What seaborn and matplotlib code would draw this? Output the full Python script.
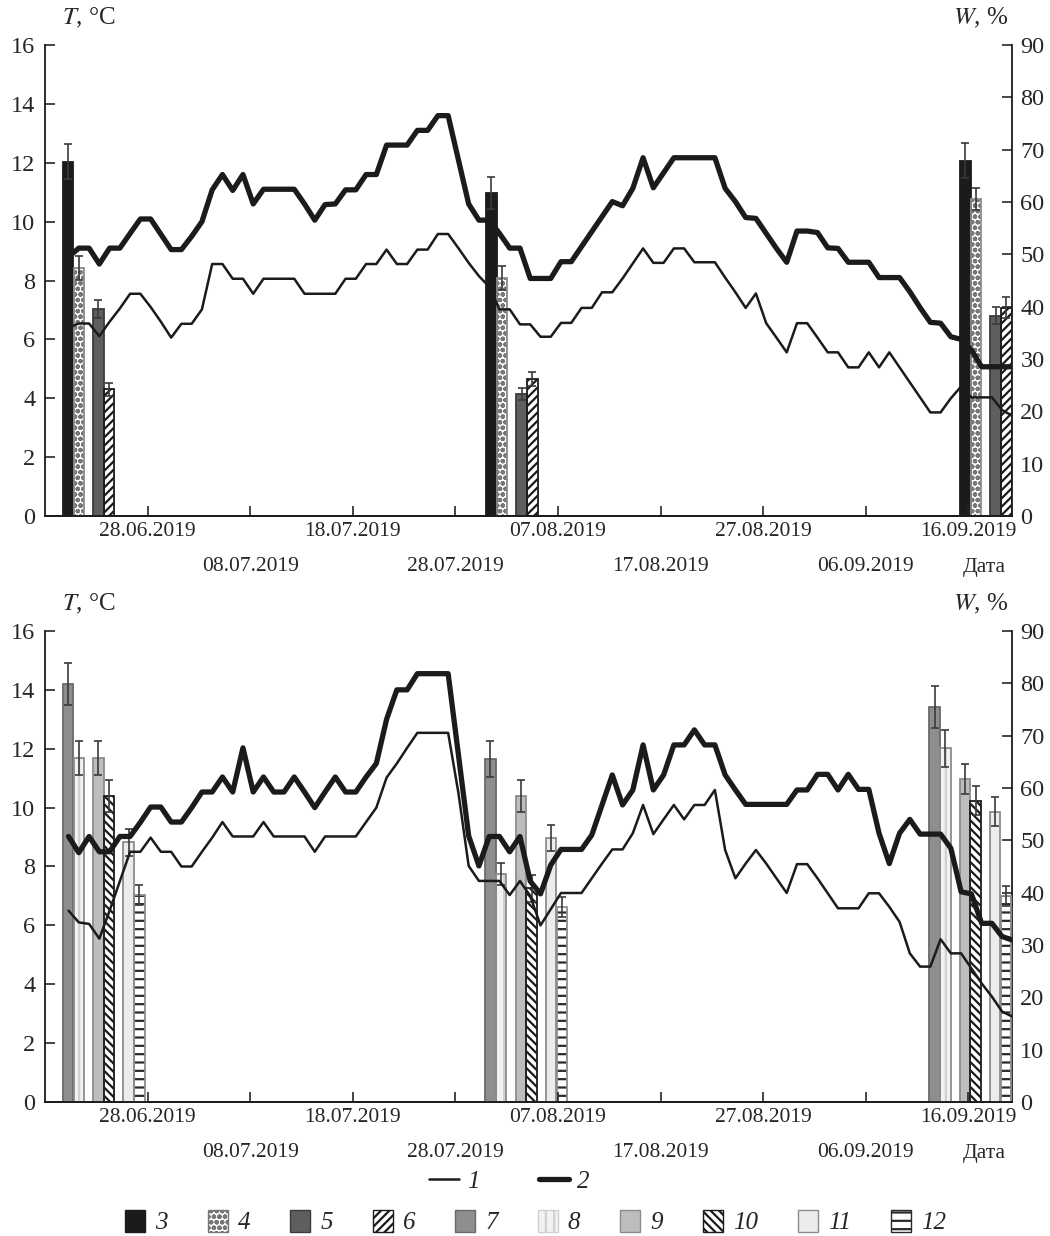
import numpy as np
import pandas as pd
import seaborn as sns
import matplotlib.pyplot as plt
from matplotlib.patches import Patch
from matplotlib.lines import Line2D

# daily mean temperature, 20.06.2019 - 21.09.2019
dates = pd.date_range("2019-06-20", periods=93, freq="D") + pd.Timedelta(hours=7)

# top panel: 1 - thin line, 2 - thick line
t1_top = [6.4, 6.54, 6.54, 6.11, 6.6, 7.05, 7.55, 7.55, 7.1, 6.6,
          6.06, 6.53, 6.53, 7.02, 8.56, 8.56, 8.06, 8.06, 7.55, 8.06,
          8.06, 8.06, 8.06, 7.55, 7.55, 7.55, 7.55, 8.06, 8.06, 8.56,
          8.56, 9.05, 8.56, 8.56, 9.05, 9.05, 9.58, 9.58, 9.1, 8.6,
          8.15, 7.79, 7.02, 7.02, 6.51, 6.51, 6.09, 6.09, 6.56, 6.56,
          7.07, 7.07, 7.6, 7.6, 8.07, 8.58, 9.09, 8.6, 8.6, 9.09,
          9.09, 8.62, 8.62, 8.62, 8.1, 7.6, 7.07, 7.56, 6.55, 6.06,
          5.56, 6.55, 6.55, 6.06, 5.56, 5.56, 5.05, 5.05, 5.56, 5.05,
          5.56, 5.05, 4.54, 4.03, 3.52, 3.52, 4.0, 4.4, 4.03, 4.03,
          4.03, 3.6, 3.4]
t2_top = [8.8, 9.1, 9.1, 8.56, 9.1, 9.1, 9.6, 10.09, 10.09, 9.57,
          9.05, 9.05, 9.5, 10.0, 11.08, 11.6, 11.06, 11.6, 10.6, 11.1,
          11.1, 11.1, 11.1, 10.6, 10.05, 10.58, 10.6, 11.08, 11.08, 11.6,
          11.6, 12.6, 12.6, 12.6, 13.1, 13.1, 13.6, 13.6, 12.1, 10.6,
          10.05, 10.05, 9.6, 9.1, 9.1, 8.07, 8.07, 8.07, 8.64, 8.64,
          9.15, 9.66, 10.17, 10.68, 10.54, 11.13, 12.17, 11.15, 11.66, 12.17,
          12.17, 12.17, 12.17, 12.17, 11.13, 10.68, 10.14, 10.11, 9.6, 9.09,
          8.62, 9.68, 9.68, 9.63, 9.11, 9.09, 8.62, 8.62, 8.62, 8.1,
          8.1, 8.1, 7.62, 7.08, 6.58, 6.55, 6.09, 6.0, 5.64, 5.07,
          5.07, 5.07, 5.07]

# bottom panel
t1_bot = [6.5, 6.1, 6.05, 5.55, 6.5, 7.5, 8.5, 8.5, 8.98, 8.5,
          8.5, 8.0, 8.0, 8.5, 8.98, 9.51, 9.02, 9.02, 9.02, 9.51,
          9.02, 9.02, 9.02, 9.02, 8.5, 9.02, 9.02, 9.02, 9.02, 9.51,
          10.0, 11.02, 11.5, 12.03, 12.54, 12.54, 12.54, 12.54, 10.5, 8.02,
          7.51, 7.51, 7.51, 7.03, 7.51, 7.0, 6.0, 6.55, 7.1, 7.1,
          7.1, 7.6, 8.1, 8.58, 8.58, 9.13, 10.09, 9.1, 9.6, 10.09,
          9.6, 10.09, 10.09, 10.6, 8.56, 7.6, 8.1, 8.56, 8.1, 7.6,
          7.1, 8.08, 8.08, 7.6, 7.09, 6.58, 6.58, 6.58, 7.09, 7.09,
          6.63, 6.12, 5.05, 4.6, 4.6, 5.53, 5.05, 5.05, 4.54, 4.03,
          3.58, 3.07, 2.9]
t2_bot = [9.02, 8.47, 9.02, 8.5, 8.5, 9.02, 9.02, 9.5, 10.02, 10.02,
          9.51, 9.51, 10.0, 10.53, 10.53, 11.04, 10.53, 12.03, 10.53, 11.04,
          10.53, 10.53, 11.04, 10.53, 10.0, 10.53, 11.04, 10.53, 10.53, 11.04,
          11.5, 13.0, 14.0, 14.0, 14.55, 14.55, 14.55, 14.55, 11.8, 9.04,
          8.02, 9.02, 9.02, 8.5, 9.02, 7.5, 7.07, 8.05, 8.58, 8.58,
          8.58, 9.07, 10.09, 11.11, 10.09, 10.6, 12.13, 10.6, 11.11, 12.13,
          12.13, 12.64, 12.13, 12.13, 11.11, 10.6, 10.11, 10.11, 10.11, 10.11,
          10.11, 10.6, 10.6, 11.13, 11.13, 10.6, 11.13, 10.62, 10.62, 9.13,
          8.1, 9.13, 9.6, 9.1, 9.1, 9.1, 8.62, 7.14, 7.07, 6.07,
          6.07, 5.62, 5.5]

# soil moisture W, % at three sampling dates (value, error)
samp_top = pd.to_datetime(["2019-06-20 06:00", "2019-07-31 12:00", "2019-09-15 17:00"])
samp_bot = pd.to_datetime(["2019-06-20 06:00", "2019-07-31 10:00", "2019-09-12 17:00"])
w3, e3 = [67.7, 61.7, 67.9], [3.4, 3.1, 3.3]
w4, e4 = [47.4, 45.5, 60.5], [2.3, 2.3, 2.1]
w5, e5 = [39.6, 23.3, 38.3], [1.7, 1.1, 1.6]
w6, e6 = [24.2, 26.2, 39.8], [1.2, 1.4, 2.0]
w7, e7 = [79.8, 65.5, 75.5], [4.0, 3.4, 4.0]
w8, e8 = [65.7, 43.5, 67.6], [3.3, 2.1, 3.5]
w9, e9 = [65.7, 58.5, 61.7], [3.3, 3.0, 2.8]
w10, e10 = [58.5, 40.8, 57.6], [3.0, 2.6, 2.8]
w11, e11 = [49.6, 50.4, 55.5], [2.5, 2.5, 2.8]
w12, e12 = [39.6, 37.3, 39.4], [1.9, 1.9, 1.9]

tick_dates = pd.date_range("2019-06-28", periods=9, freq="10D")

# fill, hatch, hatch colour, outline
styles = {
    "3": ("#1b1b1b", None, "#1b1b1b", "#1b1b1b"),
    "4": ("white", "ooo", "#777777", "#8c8c8c"),
    "5": ("#5e5e5e", None, "#5e5e5e", "#3c3c3c"),
    "6": ("white", "////", "#1b1b1b", "#1b1b1b"),
    "7": ("#8e8e8e", None, "#8e8e8e", "#6a6a6a"),
    "8": ("#f2f2f2", "||", "#d0d0d0", "#8c8c8c"),
    "9": ("#bdbdbd", None, "#bdbdbd", "#8c8c8c"),
    "10": ("white", "\\\\\\\\", "#1b1b1b", "#1b1b1b"),
    "11": ("#ececec", None, "#ececec", "#8c8c8c"),
    "12": ("white", "--", "#2a2a2a", "#8c8c8c"),
}

sns.set_style("ticks")
plt.rcParams["font.family"] = ["Liberation Serif", "DejaVu Serif"]
plt.rcParams["mathtext.fontset"] = "stix"
plt.rcParams["hatch.linewidth"] = 1.6

fig = plt.figure(figsize=(10.5, 12.36), dpi=100)
ax_top = fig.add_axes([0.0429, 0.5825, 0.9209, 0.3811])
ax_bot = fig.add_axes([0.0429, 0.1084, 0.9209, 0.3811])


def draw_bars(axw, samp, series, offsets):
    for (name, vals, errs), off in zip(series, offsets):
        fc, hatch, hc, ec = styles[name]
        x = samp + pd.Timedelta(days=off)
        axw.bar(x, vals, width=1.02, color=fc, hatch=hatch, edgecolor=hc,
                linewidth=0, zorder=2)
        axw.bar(x, vals, width=1.02, fill=False, edgecolor=ec, linewidth=1.3, zorder=3)
        axw.errorbar(x, vals, yerr=errs, fmt="none", ecolor="#3a3a3a",
                     elinewidth=1.2, capsize=3, capthick=1.2, zorder=4)


def setup(ax, t1, t2, samp, series, offsets):
    axw = ax.twinx()
    draw_bars(axw, samp, series, offsets)
    sns.lineplot(x=dates, y=t1, ax=ax, color="#1b1b1b", linewidth=1.8)
    sns.lineplot(x=dates, y=t2, ax=ax, color="#1b1b1b", linewidth=3.8)
    ax.set_zorder(axw.get_zorder() + 1)
    ax.patch.set_visible(False)

    ax.set_xlim(pd.Timestamp("2019-06-18"), pd.Timestamp("2019-09-20 06:00"))
    ax.set_ylim(0, 16)
    axw.set_ylim(0, 90)
    ax.set_yticks(range(0, 17, 2))
    axw.set_yticks(range(0, 91, 10))
    labels = [d.strftime("%d.%m.%Y") if i % 2 == 0 else "\n" + d.strftime("%d.%m.%Y")
              for i, d in enumerate(tick_dates)]
    ax.set_xticks(tick_dates)
    ax.set_xticklabels(labels, fontsize=15.5, linespacing=2.15)
    ax.tick_params(axis="x", which="major", direction="in", length=7, width=1.2, pad=4)
    ax.tick_params(axis="y", direction="in", length=7, width=1.2, pad=7, labelsize=17.5)
    axw.tick_params(axis="y", direction="in", length=7, width=1.2, pad=6, labelsize=17.5)
    ax.set_xlabel("")
    ax.set_ylabel("")
    for a in (ax, axw):
        a.spines["top"].set_visible(False)
        for s in a.spines.values():
            s.set_linewidth(1.3)
            s.set_color("#1b1b1b")
    ax.spines["right"].set_visible(False)
    axw.spines["left"].set_visible(False)
    ax.annotate("Дата", xy=(pd.Timestamp("2019-09-17 14:00"), 0),
                xycoords=("data", "axes fraction"), xytext=(0, -30),
                textcoords="offset points", ha="center", va="top", fontsize=15.5)
    ax.text(0.018, 1.057, "$T$, °C", transform=ax.transAxes, fontsize=18,
            ha="left", va="center")
    ax.text(0.996, 1.057, "$W$, %", transform=ax.transAxes, fontsize=18,
            ha="right", va="center")


setup(ax_top, t1_top, t2_top, samp_top,
      [("3", w3, e3), ("4", w4, e4), ("5", w5, e5), ("6", w6, e6)],
      [0, 1.05, 2.95, 4.0])
setup(ax_bot, t1_bot, t2_bot, samp_bot,
      [("7", w7, e7), ("8", w8, e8), ("9", w9, e9), ("10", w10, e10),
       ("11", w11, e11), ("12", w12, e12)],
      [0, 1.05, 2.95, 4.0, 5.9, 6.95])

leg_font = dict(family="Liberation Serif", style="italic", size=18)
line_handles = [Line2D([], [], color="#1b1b1b", lw=1.8), Line2D([], [], color="#1b1b1b", lw=3.8)]
fig.legend(line_handles, ["1", "2"], loc="center", bbox_to_anchor=(0.485, 0.0437),
           ncol=2, frameon=False, prop=leg_font, handlelength=1.2,
           handletextpad=0.3, columnspacing=2.4)

patch_handles = []
for name in styles:
    fc, hatch, hc, ec = styles[name]
    patch_handles.append(Patch(facecolor=fc, hatch=hatch,
                               edgecolor=hc if hatch else ec, linewidth=1.0))
fig.legend(patch_handles, list(styles.keys()), loc="center", bbox_to_anchor=(0.51, 0.0113),
           ncol=10, frameon=False, prop=leg_font, handlelength=0.8, handleheight=1.0,
           handletextpad=0.4, columnspacing=1.6)

fig.savefig("out.png", dpi=100)
